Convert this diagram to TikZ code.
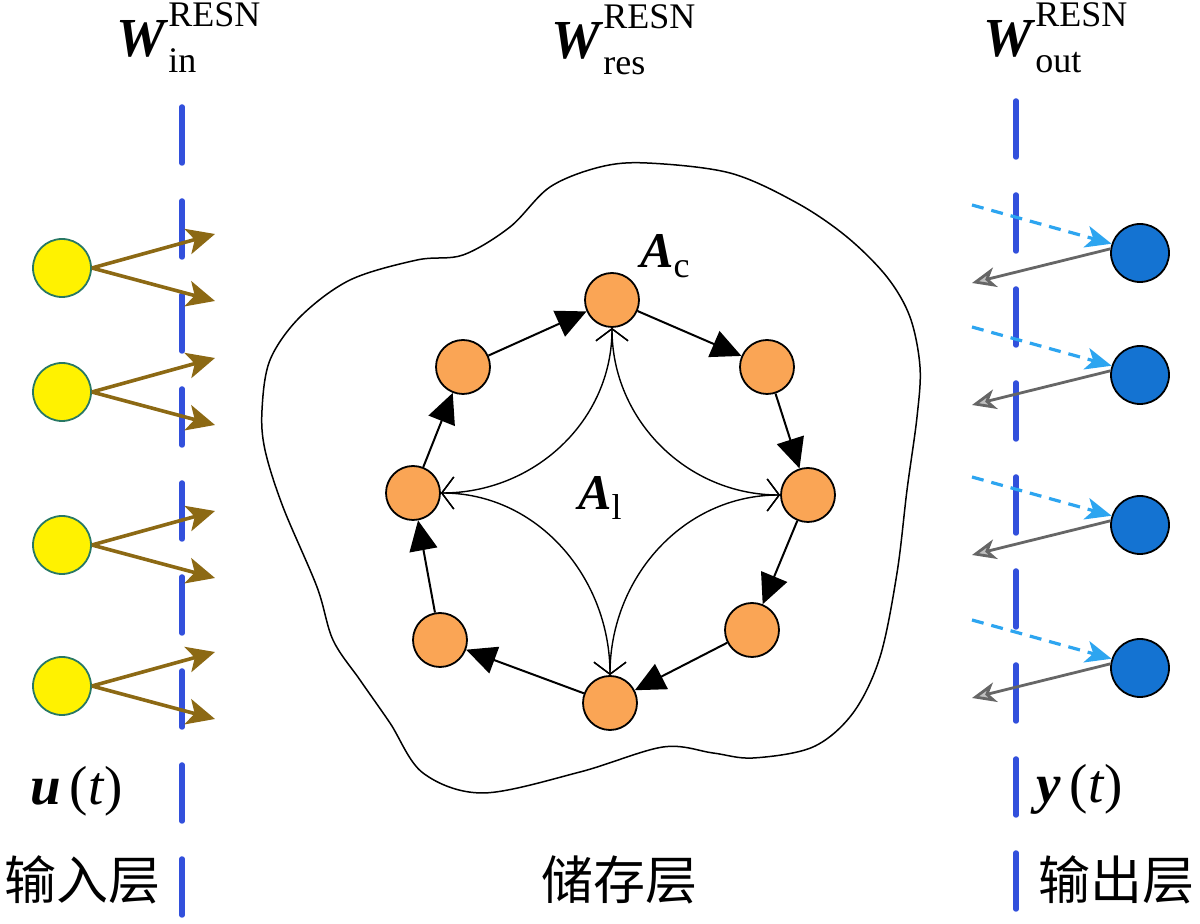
\documentclass[tikz,border=0pt]{standalone}
\usepackage{amsmath}
\usepackage{fontspec}
\setmainfont{Liberation Serif}
\newfontfamily\cjk{Noto Sans CJK SC}
\usetikzlibrary{arrows.meta}
\definecolor{lineblue}{RGB}{50,80,220}
\definecolor{nodeorange}{RGB}{250,165,85}
\definecolor{outblue}{RGB}{20,115,210}
\definecolor{skyblue}{RGB}{45,165,240}
\definecolor{feedbrown}{RGB}{140,105,20}
\definecolor{rimgreen}{RGB}{40,120,100}
\newcommand{\wlab}[1]{\textbf{\textit{W}}\rlap{\fontsize{36}{40}\selectfont\raisebox{30pt}{RESN}}\raisebox{-16pt}{\fontsize{36}{40}\selectfont #1}}

\begin{document}
\begin{tikzpicture}[x=1pt,y=1pt,
    unit/.style={circle,draw,line width=1.8pt,minimum size=54pt,inner sep=0pt},
    inp/.style={unit,fill=yellow,draw=rimgreen,minimum size=58pt},
    res/.style={unit,fill=nodeorange},
    outp/.style={unit,fill=outblue,minimum size=58pt},
    ring/.style={line width=2pt,-{Triangle[length=30pt,width=28pt]}},
    link/.style={line width=1.4pt,<->,>={Straight Barb[length=12pt,width=32pt]}},
    wline/.style={lineblue,line width=5.5pt,line cap=round,dash pattern=on 56pt off 38pt},
    feed/.style={feedbrown,line width=3.6pt,-{Stealth[length=28pt,width=26pt,inset=7pt]}},
    readin/.style={skyblue,line width=3.2pt,dash pattern=on 12pt off 8pt,-{Stealth[length=26pt,width=22pt,inset=7pt]}},
    readout/.style={gray!80!black,line width=2.8pt,-{Stealth[length=24pt,width=20pt,inset=7pt,fill=gray!50]}},
    big/.style={font=\fontsize{55}{60}\selectfont,inner sep=0pt},
    mid/.style={font=\fontsize{50}{56}\selectfont,inner sep=0pt},
    zh/.style={font=\cjk\fontsize{52}{56}\selectfont,inner sep=0pt}]
    \useasboundingbox (0,0) rectangle (1200,924);
    \draw[line width=1.5pt] plot[smooth cycle,tension=0.55] coordinates {(600,757) (647,761) (730,751) (797,721) (847,687) (887,647) (910,607) (920,557) (917,507) (907,434) (897,351) (880,267) (853,211) (813,177) (753,166) (713,171) (663,177) (580,152) (483,131) (423,151) (390,201) (360,244) (333,284) (317,337) (283,417) (265,474) (262,514) (270,564) (300,607) (350,644) (417,664) (463,669) (510,697) (550,737)};
    \coordinate (inTop) at (182,817);
    \coordinate (inEnd) at (182,0);
    \coordinate (outTop) at (1016,823);
    \coordinate (outEnd) at (1016,0);
    \draw[wline] (inTop) -- (inEnd);
    \draw[wline] (outTop) -- (outEnd);
    \draw (116,867) node[big,anchor=base west] (win) {\wlab{in}};
    \draw (551,865) node[big,anchor=base west] (wres) {\wlab{res}};
    \draw (983,867) node[big,anchor=base west] (wout) {\wlab{out}};
    \draw (612,624) node[res] (c) {};
    \draw (767,557) node[res] (ur) {};
    \draw (808,429) node[res] (r) {};
    \draw (752,294) node[res] (lr) {};
    \draw (610,221) node[res] (b) {};
    \draw (440,284) node[res] (ll) {};
    \draw (413,431) node[res] (l) {};
    \draw (463,557) node[res] (ul) {};
    \draw[ring] (c) -- (ur);
    \draw[ring] (ur) -- (r);
    \draw[ring] (r) -- (lr);
    \draw[ring] (lr) -- (b);
    \draw[ring] (b) -- (ll);
    \draw[ring] (ll) -- (l);
    \draw[ring] (l) -- (ul);
    \draw[ring] (ul) -- (c);
    \draw[link] (c) to[out=-90,in=0] (l);
    \draw[link] (c) to[out=-90,in=180] (r);
    \draw[link] (b) to[out=90,in=0] (l);
    \draw[link] (b) to[out=90,in=180] (r);
    \draw (640,656) node[mid,anchor=base west] (ac) {\textbf{\textit{A}}\raisebox{-10pt}{\fontsize{36}{40}\selectfont c}};
    \draw (578,414) node[mid,anchor=base west] (al) {\textbf{\textit{A}}\raisebox{-10pt}{\fontsize{36}{40}\selectfont l}};
    \draw (62,656) node[inp] (u1) {};
    \draw (62,532) node[inp] (u2) {};
    \draw (62,379) node[inp] (u3) {};
    \draw (62,238) node[inp] (u4) {};
    \coordinate (f1a) at (215,690);
    \coordinate (f1b) at (215,623);
    \coordinate (f2a) at (215,566);
    \coordinate (f2b) at (215,499);
    \coordinate (f3a) at (215,413);
    \coordinate (f3b) at (215,346);
    \coordinate (f4a) at (215,272);
    \coordinate (f4b) at (215,205);
    \draw[feed] (u1.east) -- (f1a);
    \draw[feed] (u1.east) -- (f1b);
    \draw[feed] (u2.east) -- (f2a);
    \draw[feed] (u2.east) -- (f2b);
    \draw[feed] (u3.east) -- (f3a);
    \draw[feed] (u3.east) -- (f3b);
    \draw[feed] (u4.east) -- (f4a);
    \draw[feed] (u4.east) -- (f4b);
    \draw (1140,671) node[outp] (y1) {};
    \draw (1140,549) node[outp] (y2) {};
    \draw (1140,399) node[outp] (y3) {};
    \draw (1140,256) node[outp] (y4) {};
    \coordinate (s1) at (972,719);
    \coordinate (s2) at (972,597);
    \coordinate (s3) at (972,447);
    \coordinate (s4) at (972,304);
    \coordinate (e1) at (972,641);
    \coordinate (e2) at (972,519);
    \coordinate (e3) at (972,369);
    \coordinate (e4) at (972,226);
    \draw[readin] (s1) -- (y1.162);
    \draw[readin] (s2) -- (y2.162);
    \draw[readin] (s3) -- (y3.162);
    \draw[readin] (s4) -- (y4.162);
    \draw[readout] (y1.172) -- (e1);
    \draw[readout] (y2.172) -- (e2);
    \draw[readout] (y3.172) -- (e3);
    \draw[readout] (y4.172) -- (e4);
    \draw (30,119) node[big,anchor=base west] (ut) {\textbf{\textit{u}}\,(\textit{t})};
    \draw (1036,121) node[big,anchor=base west] (yt) {\textbf{\textit{y}}\,(\textit{t})};
    \draw (83,44) node[zh] (lin) {输入层};
    \draw (619,44) node[zh] (lres) {储存层};
    \draw (1116,44) node[zh] (lout) {输出层};
\end{tikzpicture}
\end{document}
